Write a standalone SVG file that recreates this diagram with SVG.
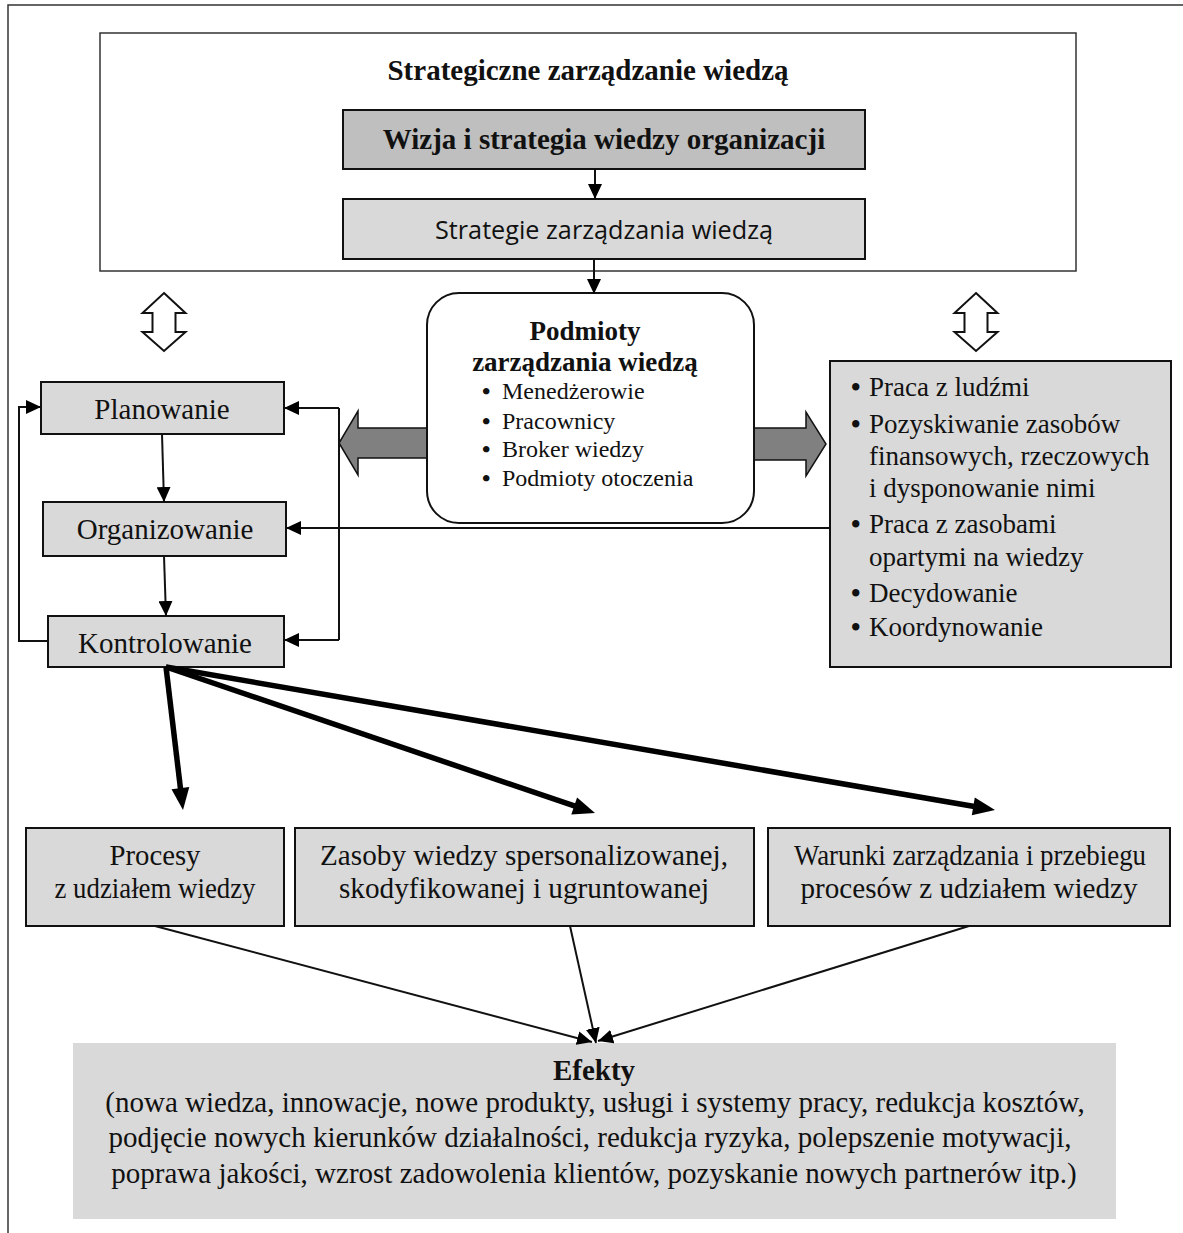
<svg xmlns="http://www.w3.org/2000/svg" width="1183" height="1233" viewBox="0 0 1183 1233">
<style>
.box{fill:#d9d9d9;stroke:#111;stroke-width:2}
.t{font-family:"Liberation Serif","Times New Roman",serif;fill:#111}
.c{text-anchor:middle}
.b{font-weight:bold}
.f29{font-size:29px}
.f27{font-size:27px}
.f24{font-size:24px}
.ln{fill:none;stroke:#111;stroke-width:2}
.thick{fill:none;stroke:#000;stroke-width:5.5}
.head{fill:#000}
.hollow{fill:#fff;stroke:#111;stroke-width:2}
.gray{fill:#808080;stroke:#111;stroke-width:1.5}
</style>
<defs>
<marker id="ah" markerUnits="userSpaceOnUse" markerWidth="16" markerHeight="14" refX="15" refY="7" orient="auto"><path d="M0,0 L15,7 L0,14 Z" fill="#000"/></marker>
</defs>
<rect x="8" y="5" width="1200" height="1250" fill="#fff" stroke="#333" stroke-width="1.5"/>
<g id="strategic">
<rect x="100" y="33" width="976" height="238" fill="#fff" stroke="#333" stroke-width="1.5"/>
<text class="t b c f29" x="588" y="80">Strategiczne zarządzanie wiedzą</text>
</g>
<g id="wizja">
<rect x="343" y="110" width="522" height="59" fill="#bfbfbf" stroke="#111" stroke-width="2"/>
<text class="t b c f29" x="604" y="149">Wizja i strategia wiedzy organizacji</text>
</g>
<g id="strategie">
<rect class="box" x="343" y="199" width="522" height="60"/>
<text x="604" y="239" text-anchor="middle" font-family="Open Sans, Noto Sans, sans-serif" font-size="26" fill="#111" textLength="338" lengthAdjust="spacingAndGlyphs">Strategie zarządzania wiedzą</text>
</g>
<g id="hollow-left"><polygon class="hollow" points="164,293 185.5,313 175.5,313 175.5,332 185.5,332 164,351 142.5,332 152.5,332 152.5,313 142.5,313"/></g>
<g id="hollow-right"><polygon class="hollow" points="976,293 997.5,313 987.5,313 987.5,332 997.5,332 976,351 954.5,332 964.5,332 964.5,313 954.5,313"/></g>
<g id="gray-arrows">
<polygon class="gray" points="430,428 358,428 358,411 339,443 358,475 358,458 430,458"/>
<polygon class="gray" points="751,428 806,428 806,412 826,444 806,476 806,460 751,460"/>
</g>
<g id="podmioty">
<rect x="427" y="293" width="327" height="230" rx="32" fill="#fff" stroke="#111" stroke-width="2"/>
<text class="t b c f27" x="585" y="340">Podmioty</text>
<text class="t b c f27" x="585" y="371">zarządzania wiedzą</text>
<text class="t f24" y="399"><tspan x="482" font-weight="bold">•</tspan><tspan x="502">Menedżerowie</tspan></text>
<text class="t f24" y="429"><tspan x="482" font-weight="bold">•</tspan><tspan x="502">Pracownicy</tspan></text>
<text class="t f24" y="457"><tspan x="482" font-weight="bold">•</tspan><tspan x="502">Broker wiedzy</tspan></text>
<text class="t f24" y="486"><tspan x="482" font-weight="bold">•</tspan><tspan x="502">Podmioty otoczenia</tspan></text>
</g>
<g id="planowanie">
<rect class="box" x="41" y="382" width="243" height="52"/>
<text class="t c f29" x="162" y="419">Planowanie</text>
</g>
<g id="organizowanie">
<rect class="box" x="43" y="502" width="243" height="54"/>
<text class="t c f29" x="165" y="539">Organizowanie</text>
</g>
<g id="kontrolowanie">
<rect class="box" x="48" y="616" width="236" height="51"/>
<text class="t c f29" x="165" y="653">Kontrolowanie</text>
</g>
<g id="funkcje">
<rect class="box" x="830" y="361" width="341" height="306"/>
<text class="t f27" y="396"><tspan x="851" font-weight="bold">•</tspan><tspan x="869">Praca z ludźmi</tspan></text>
<text class="t f27" y="433"><tspan x="851" font-weight="bold">•</tspan><tspan x="869">Pozyskiwanie zasobów</tspan></text>
<text class="t f27" x="869" y="465">finansowych, rzeczowych</text>
<text class="t f27" x="869" y="497">i dysponowanie nimi</text>
<text class="t f27" y="533"><tspan x="851" font-weight="bold">•</tspan><tspan x="869">Praca z zasobami</tspan></text>
<text class="t f27" x="869" y="566">opartymi na wiedzy</text>
<text class="t f27" y="602"><tspan x="851" font-weight="bold">•</tspan><tspan x="869">Decydowanie</tspan></text>
<text class="t f27" y="636"><tspan x="851" font-weight="bold">•</tspan><tspan x="869">Koordynowanie</tspan></text>
</g>
<g id="procesy">
<rect class="box" x="26" y="828" width="258" height="98"/>
<text class="t c f29" x="155" y="865" textLength="91" lengthAdjust="spacingAndGlyphs">Procesy</text>
<text class="t c f29" x="155" y="898" textLength="201" lengthAdjust="spacingAndGlyphs">z udziałem wiedzy</text>
</g>
<g id="zasoby">
<rect class="box" x="295" y="828" width="459" height="98"/>
<text class="t c f29" x="524" y="865" textLength="408" lengthAdjust="spacingAndGlyphs">Zasoby wiedzy spersonalizowanej,</text>
<text class="t c f29" x="524" y="898" textLength="370" lengthAdjust="spacingAndGlyphs">skodyfikowanej i ugruntowanej</text>
</g>
<g id="warunki">
<rect class="box" x="768" y="828" width="402" height="98"/>
<text class="t c f29" x="970" y="865" textLength="352" lengthAdjust="spacingAndGlyphs">Warunki zarządzania i przebiegu</text>
<text class="t c f29" x="969" y="898" textLength="337" lengthAdjust="spacingAndGlyphs">procesów z udziałem wiedzy</text>
</g>
<g id="efekty">
<rect x="73" y="1043" width="1043" height="176" fill="#d9d9d9"/>
<text class="t b c f29" x="594" y="1080">Efekty</text>
<text class="t c f29" x="595" y="1112">(nowa wiedza, innowacje, nowe produkty, usługi i systemy pracy, redukcja kosztów,</text>
<text class="t c f29" x="590" y="1147">podjęcie nowych kierunków działalności, redukcja ryzyka, polepszenie motywacji,</text>
<text class="t c f29" x="594" y="1183">poprawa jakości, wzrost zadowolenia klientów, pozyskanie nowych partnerów itp.)</text>
</g>
<g id="connectors">
<line class="ln" x1="595" y1="169" x2="595" y2="199" marker-end="url(#ah)"/>
<line class="ln" x1="594" y1="259" x2="594" y2="294" marker-end="url(#ah)"/>
<line class="ln" x1="162" y1="434" x2="164" y2="502" marker-end="url(#ah)"/>
<line class="ln" x1="164" y1="556" x2="166" y2="616" marker-end="url(#ah)"/>
<path class="ln" d="M48,641 H19 V407 H41" marker-end="url(#ah)"/>
<path class="ln" d="M339,408 V640"/>
<line class="ln" x1="339" y1="408" x2="284" y2="408" marker-end="url(#ah)"/>
<line class="ln" x1="339" y1="640" x2="284" y2="640" marker-end="url(#ah)"/>
<line class="ln" x1="830" y1="528" x2="286" y2="528" marker-end="url(#ah)"/>
<line class="thick" x1="166" y1="667" x2="180.9" y2="792.1"/>
<polygon class="head" points="183,810 171.5,789.3 189.3,787.1"/>
<line class="thick" x1="166" y1="667" x2="578" y2="807.2"/>
<polygon class="head" points="595,813 571.3,814.4 577.1,797.4"/>
<line class="thick" x1="166" y1="667" x2="977.3" y2="807"/>
<polygon class="head" points="995,810 971.8,815.2 974.8,797.4"/>
<line class="ln" x1="155" y1="926" x2="592" y2="1042" marker-end="url(#ah)"/>
<line class="ln" x1="570" y1="926" x2="596" y2="1043" marker-end="url(#ah)"/>
<line class="ln" x1="969" y1="926" x2="598" y2="1041" marker-end="url(#ah)"/>
</g>
</svg>
